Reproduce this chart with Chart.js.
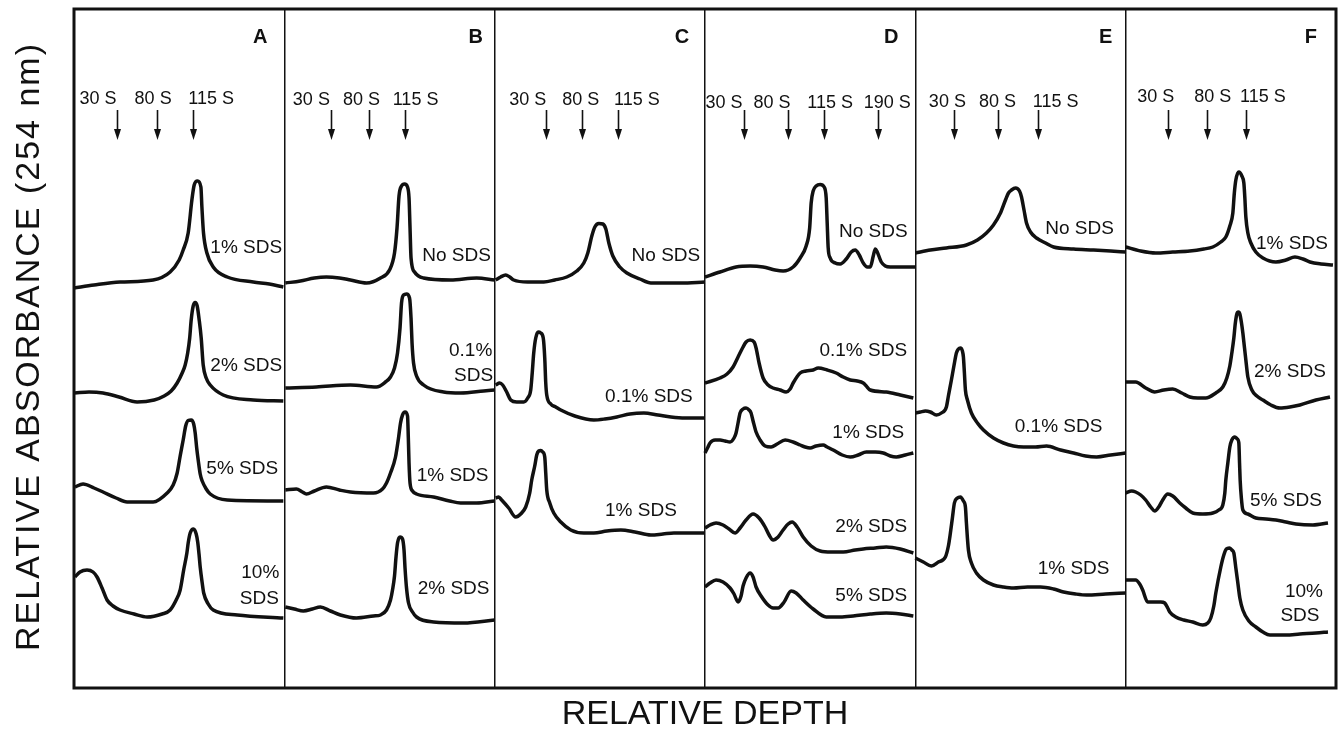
<!DOCTYPE html>
<html>
<head>
<meta charset="utf-8">
<title>Sucrose gradient profiles</title>
<script src="https://cdn.jsdelivr.net/npm/chart.js@4.4.1/dist/chart.umd.min.js"></script>
<style>
  html, body { margin: 0; padding: 0; background: #fff; }
</style>
</head>
<body>
<canvas id="gradientChart" width="1343" height="743"></canvas>
<script>
// Sedimentation profiles, six gradient panels (A-F)
const INK = '#111111';
const FONT = '"Liberation Sans", Arial, Helvetica, sans-serif';
const PANEL_SPAN = 210;          // relative depth units per panel
const ABS_MAX = 679;             // top of the absorbance axis
const Y_TITLE = 'RELATIVE ABSORBANCE (254 nm)';

const panelLetters = ['A', 'B', 'C', 'D', 'E', 'F'];

// sedimentation markers (depth within panel)
const markerNames = [
    ['30 S', '80 S', '115 S'],
    ['30 S', '80 S', '115 S'],
    ['30 S', '80 S', '115 S'],
    ['30 S', '80 S', '115 S', '190 S'],
    ['30 S', '80 S', '115 S'],
    ['30 S', '80 S', '115 S']
];
const markerDepths = [
    [43, 83, 119],
    [47, 85, 120],
    [51, 87, 123],
    [39, 83, 119, 173],
    [39, 83, 122],
    [42, 81, 120]
];

// traces: [relative depth, absorbance]
const A_sds1 = [[0,400],[20,403],[46,406],[79,408],[96,416],[105,428],[109,438],[114,455],[117.7,488],[120,503],[123.3,507],[126.7,501],[127.7,481],[129.3,455],[132.7,435],[139,421],[153,411],[179,406],[195,404],[209,401]];
const A_sds2 = [[1,295],[15,296],[29,295],[45,291],[63,286],[80,288],[90,292],[97,297],[103,305],[108,315],[111,323],[113.5,335],[115.5,350],[117,368],[119,382],[121,385.5],[123,382],[125,368],[127,350],[129,323],[132,310],[136,303],[149,293],[179,288],[209,287]];
const A_sds5 = [[1,201],[9,204],[20,200],[29,196],[42,190],[53,186],[79,186],[93,195],[99,203],[103,215],[106,232],[109,248],[111.5,262],[114,267.5],[117,268],[119.5,264],[121,255],[122.5,240],[124,228],[126,214],[128,207],[132,199],[136,194],[153,188],[209,187]];
const A_sds10 = [[1,111],[6,116],[13,118],[19,116],[23,111],[28,100],[33,88],[39,82],[46,78],[60,74],[73,71],[88,74],[96,78],[102,88],[106,98],[109.5,118],[112.7,135],[114,145],[116,155],[119.3,159],[122,154],[123.5,146],[125,132],[126,121],[128,105],[129.5,95],[134,84],[139,78],[163,73],[209,70]];

const B_none = [[1,405],[16,407],[30,410],[42,411],[55,410],[66,408],[82,405],[96,410],[105,418],[110,435],[112.5,460],[114.5,492],[117,502],[120,504],[123,501],[124.5,490],[125.5,460],[126.5,430],[130,416],[139,410],[166,408],[192,410],[210,408]];
const B_sds01 = [[1,300],[32,301],[66,303],[92,301],[101,306],[106,311],[110,320],[113,335],[115.5,360],[117,385],[119,393],[122,394],[125,390],[126.5,370],[127.5,345],[129,325],[132,312],[139,303],[159,296],[176,295],[199,297],[210,298]];
const B_sds1 = [[1,198],[12,199],[18,196],[22,194],[30,197],[42,201],[55,198],[66,196],[89,195],[98,199],[102,205],[106,215],[111,231],[114,250],[116,265],[118,273],[120.5,276],[123,272],[123.8,250],[124.5,225],[125.5,205],[128,197],[132,194],[149,191],[165,187],[176,185],[192,185],[210,187]];
const B_sds2 = [[1,81],[10,79],[19,77],[28,79],[36,81],[46,77],[56,73],[72,70],[89,72],[96,73],[102,78],[106,88],[108,98],[110,112],[111.5,131],[113,145],[115.5,151],[118,149],[119.5,138],[120.5,120],[122,100],[124,85],[128,76],[132,71],[149,66],[179,65],[210,68]];

const C_none = [[1,408],[6,411],[11,413],[15,411],[19,408],[33,406],[49,406],[60,408],[72,411],[82,417],[89,425],[93,435],[97,452],[100,461],[104,464.5],[108,464],[111,459],[114,445],[118,432],[125,421],[132,415],[145,409],[156,405],[186,405],[210,406]];
const C_sds01 = [[1,303],[5,305],[8,303],[12,296],[16,288],[22,286],[29,286],[33,290],[36,298],[37.5,315],[39,335],[41,350],[43.5,356],[46,355],[48.5,350],[50,330],[51,305],[52,293],[56,284],[61,281],[66,278],[80,272],[99,268],[110,269],[122,271],[135,274],[149,275],[163,273],[176,271],[190,270],[210,270]];
const C_sds1 = [[1,190],[4,191],[7,188],[14,180],[21,171],[26,174],[31,181],[35,195],[37,208],[40,222],[42,233],[44,237],[46,237.5],[48,236],[50,231],[51,215],[52,198],[55,185],[59,175],[66,166],[76,158],[89,155],[99,155],[112,157],[126,158],[140,156],[156,153],[168,154],[179,155],[195,155],[210,155]];

const D_none = [[0,411],[15,416],[31,421],[45,422],[58,421],[70,418],[78,417],[88,421],[95,430],[101,442],[104.5,460],[106,485],[108,497],[111,502],[115,503.5],[119,501],[121,490],[122,465],[123,440],[125,430],[130,425],[135,424],[141,429],[146,436],[150,438],[154,433],[158,425],[162,421],[165,421],[168,432],[170,439],[172,436],[176,426],[180,422],[185,421],[210,421]];
const D_sds01 = [[0,305],[15,310],[22,314],[28,321],[33,331],[38,341],[41,346],[45,348],[49,346],[51,340],[54,325],[58,310],[63,303],[68,300],[75,298],[81,296],[85,299],[88,305],[95,315],[101,317],[108,318],[113,320],[122,318],[131,315],[138,311],[145,308],[152,307],[158,305],[161,302],[165,298],[181,296],[195,293],[208,290]];
const D_sds1 = [[0,235],[3,241],[5,245],[10,248],[15,248],[20,247],[25,246],[29,250],[31,255],[33,265],[35,275],[38,279],[41,280],[44,278],[46,275],[48,267],[51,256],[55,248],[60,242],[66,241],[72,244],[80,248],[88,246],[95,243],[100,241],[105,240],[111,242],[118,243],[122,241],[128,238],[137,233],[145,231],[153,233],[161,236],[170,236],[178,235],[185,232],[191,231],[200,233],[208,235]];
const D_sds2 = [[0,160],[5,163],[11,165],[18,163],[24,159],[30,155],[35,160],[41,168],[48,174],[54,170],[60,161],[64,153],[68,148],[73,151],[78,158],[83,164],[87,166],[92,161],[98,151],[106,142],[115,137],[126,136],[138,136],[150,138],[158,139],[170,140],[181,141],[195,139],[208,135]];
const D_sds5 = [[0,101],[5,105],[11,108],[18,106],[25,100],[29,94],[33,86],[36,92],[38,102],[41,110],[45,115],[48,111],[51,101],[56,92],[63,83],[68,80],[73,80],[79,86],[86,97],[91,95],[98,88],[108,79],[121,71],[135,71],[148,72],[165,74],[181,75],[195,74],[208,72]];

const E_none = [[0,435],[15,438],[31,440],[51,443],[62,448],[71,455],[78,463],[85,475],[90,488],[93,495],[96,498],[100,500],[104,497],[106,491],[108.5,478],[111,465],[115,456],[121,450],[130,445],[138,441],[158,439],[178,438],[195,437],[210,436]];
const E_sds01 = [[0,275],[5,276],[10,277],[15,276],[21,273],[26,275],[31,281],[33,292],[36,308],[38.5,322],[41,335],[43,339],[45,340],[47,337],[48,331],[49,315],[50,298],[52,288],[56,275],[62,265],[68,258],[78,250],[88,245],[98,242],[108,241],[120,241],[131,242],[145,238],[158,235],[170,232],[181,231],[195,233],[210,235]];
const E_sds1 = [[0,130],[8,126],[16,122],[23,126],[30,131],[33,142],[35,155],[37,170],[39,185],[42,190],[45,191],[48,187],[50,181],[51,165],[53,138],[56,125],[61,115],[68,108],[78,103],[88,101],[98,100],[112,101],[125,101],[138,99],[148,96],[160,94],[171,93],[190,94],[210,95]];

const F_sds1 = [[0,441],[15,437],[30,435],[47,436],[64,437],[78,439],[87,441],[95,446],[100,451],[104,462],[107,475],[108.5,495],[110,508],[113,516],[116,512],[118,505],[119,490],[120,471],[122,455],[125,445],[130,436],[137,430],[150,426],[160,428],[169,431],[177,429],[184,426],[195,424],[207,423]];
const F_sds2 = [[0,306],[10,306],[20,300],[29,296],[38,298],[47,299],[56,295],[64,291],[72,290],[80,290],[90,295],[97,301],[101,310],[104,322],[106,335],[108,350],[109.5,365],[111,374],[112.5,376],[114,374],[115.5,366],[117,355],[118,346],[120,328],[122,311],[126,298],[131,292],[137,288],[145,283],[154,280],[164,281],[174,283],[190,288],[204,291]];
const F_sds5 = [[0,195],[6,197],[10,196],[15,193],[20,188],[25,181],[29,177],[33,181],[37,188],[42,194],[47,192],[54,185],[60,180],[67,175],[77,174],[87,175],[93,178],[97,183],[99,195],[100,208],[102,225],[104,241],[106,248],[109,251],[111.5,249],[113,245],[113.7,225],[114.3,208],[115.5,190],[117,178],[122,174],[130,170],[140,169],[150,168],[160,166],[170,164],[187,163],[202,165]];
const F_sds10 = [[0,108],[10,108],[14,104],[17,98],[22,86],[26,86],[30,86],[35,86],[39,85],[42,80],[44,76],[50,71],[58,68],[67,66],[77,63],[82,65],[85,70],[88,82],[90,95],[95,121],[98,133],[100.5,139],[103.5,140],[106,138],[108,135],[110,120],[112,105],[114,90],[117,78],[123,67],[130,61],[137,56],[144,53],[160,53],[174,54],[190,55],[202,56]];

const panelTraces = [
    [A_sds1, A_sds2, A_sds5, A_sds10],
    [B_none, B_sds01, B_sds1, B_sds2],
    [C_none, C_sds01, C_sds1],
    [D_none, D_sds01, D_sds1, D_sds2, D_sds5],
    [E_none, E_sds01, E_sds1],
    [F_sds1, F_sds2, F_sds5, F_sds10]
];

// text annotations placed in data units: [text, depth, absorbance]
const traceLabels = [
    [['1% SDS',172,440],['2% SDS',172,322],['5% SDS',168,219],['10%',186,115],['SDS',185,89]],
    [['No SDS',172,432],['0.1%',186,337],['SDS',189,312],['1% SDS',168,212],['2% SDS',169,99]],
    [['No SDS',171,432],['0.1% SDS',154,291],['1% SDS',146,177]],
    [['No SDS',168,456],['0.1% SDS',158,337],['1% SDS',163,255],['2% SDS',166,161],['5% SDS',166,92]],
    [['No SDS',164,459],['0.1% SDS',143,261],['1% SDS',158,119]],
    [['1% SDS',166,444],['2% SDS',164,316],['5% SDS',160,187],['10%',178,96],['SDS',174,72]]
];
const markerLabelDepths = [
    [24, 79, 137],
    [27, 77, 131],
    [33, 86, 142],
    [19, 67, 125, 182],
    [32, 82, 140],
    [30, 87, 137]
];
const markerLabelY = [589, 588, 588, 585, 586, 591];
const letterDepths = [186, 191, 187, 186, 190, 185];
const LETTER_Y = 651;
const ARROW_TOP = 578;
const ARROW_TIP = 548;

// Frame, vertical axis title, panel letters, marker arrows and trace labels
const figureText = {
    id: 'figureText',
    afterDatasetsDraw(chart) {
        const {ctx, chartArea: area, scales: {x, y}} = chart;
        ctx.save();
        ctx.strokeStyle = INK;
        ctx.fillStyle = INK;
        ctx.lineWidth = 3;
        ctx.strokeRect(area.left, area.top, area.right - area.left, area.bottom - area.top);
        ctx.textAlign = 'center';
        ctx.textBaseline = 'middle';

        // vertical title, slightly letter-spaced like the original lettering
        ctx.save();
        ctx.translate(30, (area.top + area.bottom) / 2 - 2);
        ctx.rotate(-Math.PI / 2);
        ctx.font = '34px ' + FONT;
        if ('letterSpacing' in ctx) ctx.letterSpacing = '2px';
        ctx.fillText(Y_TITLE, 0, 0);
        ctx.restore();

        panelLetters.forEach((letter, k) => {
            const base = k * PANEL_SPAN;
            ctx.font = 'bold 20px ' + FONT;
            ctx.fillText(letter, x.getPixelForValue(base + letterDepths[k]), y.getPixelForValue(LETTER_Y));

            ctx.font = '18px ' + FONT;
            markerNames[k].forEach((name, i) => {
                ctx.fillText(name, x.getPixelForValue(base + markerLabelDepths[k][i]), y.getPixelForValue(markerLabelY[k]));
                const ax = Math.round(x.getPixelForValue(base + markerDepths[k][i])) + 0.5;
                const top = y.getPixelForValue(ARROW_TOP);
                const tip = y.getPixelForValue(ARROW_TIP);
                ctx.lineWidth = 1.6;
                ctx.beginPath();
                ctx.moveTo(ax, top);
                ctx.lineTo(ax, tip - 9);
                ctx.stroke();
                ctx.beginPath();
                ctx.moveTo(ax - 3.5, tip - 11);
                ctx.lineTo(ax + 3.5, tip - 11);
                ctx.lineTo(ax, tip);
                ctx.closePath();
                ctx.fill();
            });

            ctx.font = '19px ' + FONT;
            traceLabels[k].forEach(([text, depth, value]) => {
                ctx.fillText(text, x.getPixelForValue(base + depth), y.getPixelForValue(value));
            });
        });
        ctx.restore();
    }
};

const datasets = [];
panelTraces.forEach((traces, k) => {
    traces.forEach(trace => {
        datasets.push({
            data: trace.map(p => ({x: k * PANEL_SPAN + p[0], y: p[1]})),
            showLine: true,
            borderColor: INK,
            borderWidth: 3.5,
            pointRadius: 0,
            fill: false,
            cubicInterpolationMode: 'monotone'
        });
    });
});

Chart.defaults.font.family = FONT;

new Chart(document.getElementById('gradientChart').getContext('2d'), {
    type: 'scatter',
    data: {datasets: datasets},
    options: {
        responsive: false,
        animation: false,
        layout: {padding: {left: 74, top: 9, right: 7, bottom: 0}},
        plugins: {
            legend: {display: false},
            tooltip: {enabled: false}
        },
        scales: {
            x: {
                type: 'linear',
                min: 0,
                max: PANEL_SPAN * panelLetters.length,
                ticks: {display: false, stepSize: PANEL_SPAN},
                grid: {display: true, color: INK, lineWidth: 1.5, drawTicks: false},
                border: {display: false},
                title: {
                    display: true,
                    text: 'RELATIVE DEPTH',
                    color: INK,
                    font: {size: 34, family: FONT},
                    padding: {top: 6.6, bottom: 7.6}
                }
            },
            y: {
                min: 0,
                max: ABS_MAX,
                ticks: {display: false},
                grid: {display: false, drawTicks: false},
                border: {display: false},
                title: {display: false}
            }
        }
    },
    plugins: [figureText]
});
</script>
</body>
</html>
